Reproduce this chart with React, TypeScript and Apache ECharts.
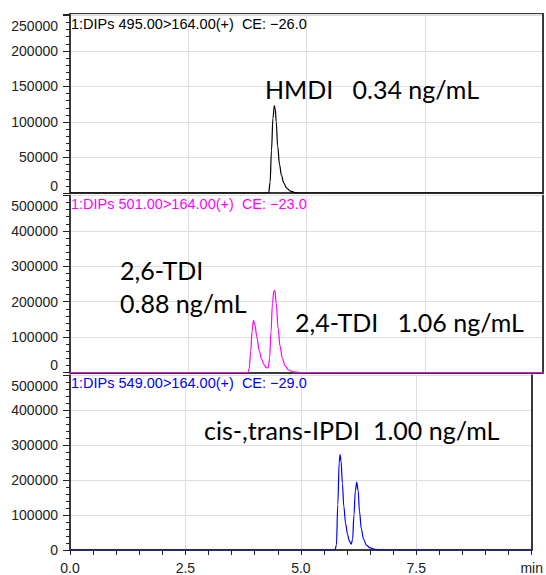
import React, { useEffect, useRef } from "react";
import * as echarts from "echarts";

// ---- data ----
const xTickLabels = ["0.0", "2.5", "5.0", "7.5", "min"];

const hmdiTime = [0, 4.2, 4.23, 4.26, 4.29, 4.32, 4.34, 4.36, 4.39, 4.43, 4.47, 4.52, 4.58, 4.66, 4.76, 4.86, 10];
const hmdiSignal = [0, 0, 15000, 60000, 105000, 123000, 118000, 100000, 66000, 40000, 25000, 14000, 7000, 2500, 600, 0, 0];

const tdiTime = [0, 3.76, 3.79, 3.82, 3.85, 3.88, 3.91, 3.95, 4.0, 4.05, 4.1, 4.15, 4.19, 4.22, 4.25, 4.28, 4.31, 4.33, 4.36, 4.4, 4.44, 4.49, 4.55, 4.62, 4.72, 4.85, 10];
const tdiSignal = [0, 0, 12000, 60000, 118000, 147000, 135000, 100000, 62000, 38000, 22000, 14000, 13000, 40000, 115000, 195000, 230000, 232000, 195000, 125000, 75000, 40000, 18000, 7000, 2000, 0, 0];

const ipdiTime = [0, 5.74, 5.77, 5.8, 5.83, 5.85, 5.87, 5.9, 5.93, 5.97, 6.01, 6.05, 6.09, 6.12, 6.15, 6.18, 6.21, 6.24, 6.27, 6.31, 6.36, 6.42, 6.5, 6.6, 6.75, 10];
const ipdiSignal = [0, 0, 15000, 130000, 250000, 273000, 255000, 190000, 125000, 75000, 45000, 26000, 17000, 30000, 100000, 170000, 194000, 170000, 110000, 60000, 30000, 14000, 6000, 2000, 0, 0];

const panelHeaders = [
  "1:DIPs 495.00>164.00(+)  CE: \u221226.0",
  "1:DIPs 501.00>164.00(+)  CE: \u221223.0",
  "1:DIPs 549.00>164.00(+)  CE: \u221229.0",
];
const panelColors = ["#000000", "#ff00ff", "#0000ff"];
const yMax = [252000, 500000, 500000];
const yInterval = [50000, 100000, 100000];
const yTopLabel = [250000, 500000, 500000];
const shiftZero = [true, true, false];

const annotations = [
  "HMDI   0.34 ng/mL",
  "2,6-TDI",
  "0.88 ng/mL",
  "2,4-TDI   1.06 ng/mL",
  "cis-,trans-IPDI  1.00 ng/mL",
];

const zip = (a: number[], b: number[]) => a.map((t, i) => [t, b[i]]);

export default function App() {
  const ref = useRef<HTMLDivElement>(null);
  useEffect(() => {
    if (!ref.current) return;
    const chart = echarts.init(ref.current, undefined, { renderer: "svg" });
    const axisDark = "#3a3a3a";
    const gridGray = "#dedede";
    const font = "Liberation Sans";

    const grids = [
      { left: 70, right: 3, top: 14, height: 179, show: true, borderColor: axisDark, borderWidth: 2 },
      { left: 70, right: 3, top: 195.5, height: 177 },
      { left: 70, right: 3, top: 375.2, height: 176.5 },
    ];

    const xAxes: any[] = [];
    const yAxes: any[] = [];
    for (let i = 0; i < 3; i++) {
      const last = i === 2;
      xAxes.push({
        type: "value",
        gridIndex: i,
        min: 0,
        max: 10,
        interval: 2.5,
        axisLine: { show: true, lineStyle: { color: axisDark, width: 2 } },
        axisTick: { show: last, length: 5, lineStyle: { color: "#222" } },
        minorTick: { show: last, splitNumber: 5, length: 5, lineStyle: { color: "#222" } },
        axisLabel: {
          show: last,
          margin: 11,
          fontSize: 14,
          fontFamily: font,
          color: "#222",
          showMaxLabel: true,
          formatter: (v: number) => xTickLabels[Math.round(v / 2.5)] ?? "",
        },
        splitLine: { show: true, lineStyle: { color: gridGray, width: 1 } },
      });
      const top = yTopLabel[i];
      const zshift = shiftZero[i];
      yAxes.push({
        type: "value",
        gridIndex: i,
        min: 0,
        max: yMax[i],
        interval: yInterval[i],
        axisLine: { show: true, lineStyle: { color: axisDark, width: 2 } },
        axisTick: { show: true, length: 7, lineStyle: { color: "#222" } },
        minorTick: { show: true, splitNumber: 5, length: 4, lineStyle: { color: "#222" } },
        splitLine: { show: true, lineStyle: { color: gridGray, width: 1 } },
        axisLabel: {
          margin: 12,
          fontSize: 14,
          fontFamily: font,
          color: "#222",
          formatter: (v: number) => {
            if (v === top) return "{t|" + v + "}";
            if (v === 0 && zshift) return "{b|0}";
            return String(v);
          },
          rich: {
            t: { padding: [21, 0, 0, 0], fontSize: 14, fontFamily: font, color: "#222" },
            b: { padding: [0, 0, 15, 0], fontSize: 14, fontFamily: font, color: "#222" },
          },
        },
      });
      // right frame edge
      yAxes.push({
        type: "value",
        gridIndex: i,
        position: "right",
        min: 0,
        max: yMax[i],
        axisLine: { show: true, onZero: false, lineStyle: { color: axisDark, width: 2 } },
        axisTick: { show: false },
        axisLabel: { show: false },
        splitLine: { show: false },
      });
    }

    const seriesData = [zip(hmdiTime, hmdiSignal), zip(tdiTime, tdiSignal), zip(ipdiTime, ipdiSignal)];
    const series = seriesData.map((d, i) => ({
      type: "line",
      xAxisIndex: i,
      yAxisIndex: i * 2,
      data: d,
      showSymbol: false,
      smooth: 0.35,
      smoothMonotone: "x",
      lineStyle: { color: panelColors[i], width: 1.2 },
      z: 5,
    }));

    const headerY = [24, 204, 383];
    const graphics: any[] = panelHeaders.map((h, i) => ({
      type: "text",
      x: 71,
      y: headerY[i],
      z: 10,
      style: {
        text: h,
        font: `14.5px "${font}"`,
        fill: panelColors[i],
        verticalAlign: "middle",
      },
    }));
    const annPos = [
      [265, 89],
      [120, 270],
      [120, 303],
      [295, 322],
      [204, 430],
    ];
    annotations.forEach((a, i) => {
      graphics.push({
        type: "text",
        x: annPos[i][0],
        y: annPos[i][1],
        z: 10,
        style: {
          text: a,
          font: `25px "Lato"`,
          fill: "#000",
          verticalAlign: "middle",
        },
      });
    });

    chart.setOption({
      animation: false,
      backgroundColor: "#ffffff",
      grid: grids,
      xAxis: xAxes,
      yAxis: yAxes,
      series,
      graphic: graphics,
    });
    return () => chart.dispose();
  }, []);
  return (
    <div
      ref={ref}
      style={{ position: "absolute", left: 0, top: 0, width: 546, height: 575 }}
    />
  );
}
